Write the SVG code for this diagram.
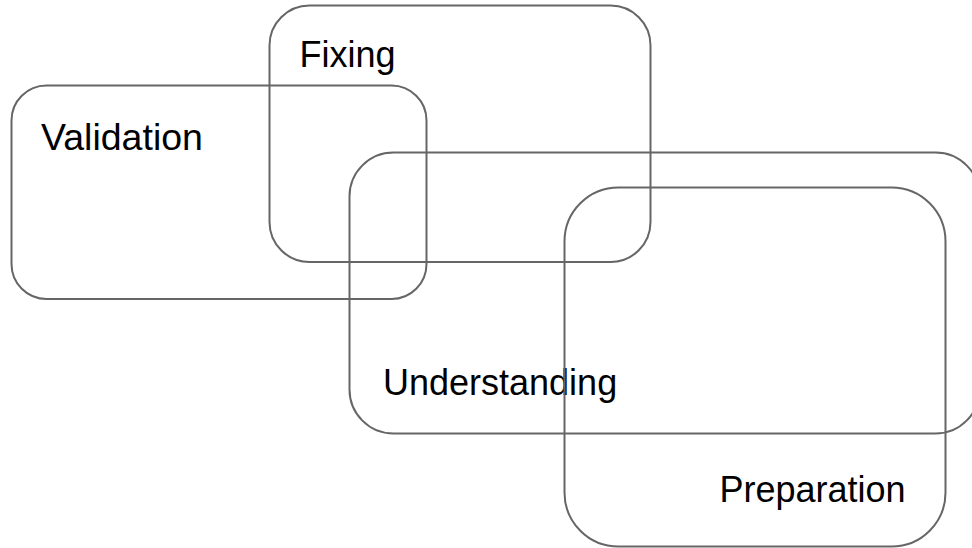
<svg xmlns="http://www.w3.org/2000/svg" width="972" height="548" viewBox="0 0 972 548">
  <style>
    .box { fill: none; stroke: #666666; stroke-width: 2; }
    .label { font-family: "Liberation Sans", Arial, sans-serif; font-size: 36px; fill: #000000; }
  </style>
  <rect x="0" y="0" width="972" height="548" fill="#ffffff"/>
  <g id="validation">
    <rect class="box" x="11.5" y="85.5" width="415" height="213.5" rx="35" ry="35"/>
    <text class="label" x="41" y="150" style="font-size:37.5px">Validation</text>
  </g>
  <g id="fixing">
    <rect class="box" x="269.5" y="5.5" width="381" height="256.5" rx="40" ry="40"/>
    <text class="label" x="299.5" y="67">Fixing</text>
  </g>
  <g id="understanding">
    <rect class="box" x="349.5" y="152.5" width="630" height="281" rx="44" ry="44"/>
    <text class="label" x="383" y="395">Understanding</text>
  </g>
  <g id="preparation">
    <rect class="box" x="564.5" y="187.5" width="381" height="359" rx="54" ry="54"/>
    <text class="label" x="719.5" y="502">Preparation</text>
  </g>
  <g id="connectors"/>
</svg>
